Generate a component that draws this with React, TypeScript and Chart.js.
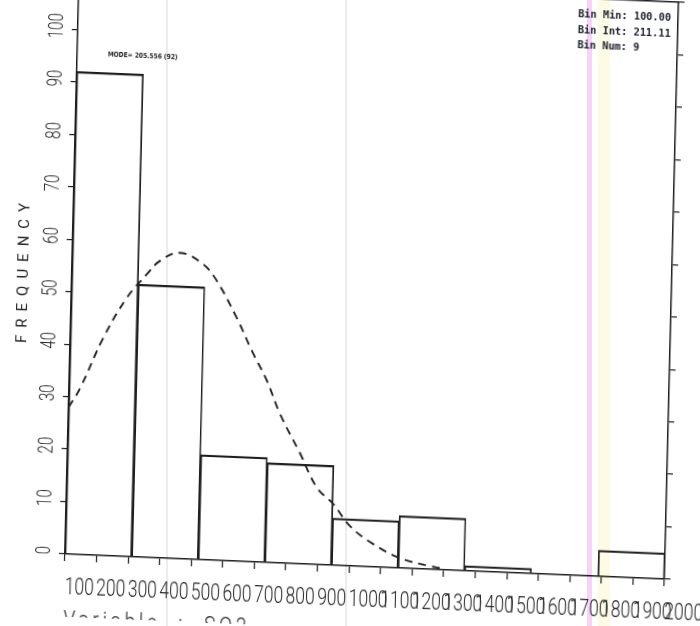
import React, { useEffect, useRef } from 'react';
import { Chart, registerables } from 'chart.js';

Chart.register(...registerables);

// ---- data ----
const binEdges = [100, 311.11, 522.22, 733.33, 944.44, 1155.56, 1366.67, 1577.78, 1788.89, 2000];
const binCounts = [92, 52, 20, 19, 9, 10, 1, 0, 5];
const curveX = [100, 135, 204, 276, 341, 378, 441, 515, 560, 626, 676, 726, 770, 836, 893, 945, 1000, 1074, 1161, 1256, 1290];
const curveY = [28, 31.7, 41.4, 49.3, 54.2, 56.6, 58.3, 56.3, 53.2, 46.3, 40.2, 34.6, 28.4, 21.1, 14.6, 11.7, 7.6, 4.4, 1.9, 0.6, 0.3];
const xTickValues = [100, 200, 300, 400, 500, 600, 700, 800, 900, 1000, 1100, 1200, 1300, 1400, 1500, 1600, 1700, 1800, 1900, 2000];
const xTickLabels = ['100', '200', '300', '400', '500', '600', '700', '800', '900', '1000', '1100', '1200', '1300', '1400', '1500', '1600', '1700', '1800', '1900', '2000'];
const yTickValues = [0, 10, 20, 30, 40, 50, 60, 70, 80, 90, 100, 110];
const yTickLabels = ['0', '10', '20', '30', '40', '50', '60', '70', '80', '90', '100', '110'];
const statLines = ['Bin Min: 100.00', 'Bin Int: 211.11', 'Bin Num: 9'];
const modeLabel = 'MODE= 205.556 (92)';
const yTitle = 'FREQUENCY';
const xTitle = 'Variable : SO3';

const INK = '#1e1e1e';
const LABEL_FONT = 'Roboto, "Liberation Sans", Arial, sans-serif';

const textPlugin = {
  id: 'scanText',
  afterDraw(chart: any) {
    const { ctx, chartArea: a, scales } = chart;
    const xs = scales.x;
    const ys = scales.y;
    ctx.save();
    ctx.fillStyle = '#262626';

    // x tick labels (left aligned at the tick, condensed)
    ctx.font = `300 24px ${LABEL_FONT}`;
    ctx.textAlign = 'left';
    ctx.textBaseline = 'alphabetic';
    xTickValues.forEach((v, i) => {
      const px = xs.getPixelForValue(v);
      ctx.save();
      ctx.translate(px + 0.5, a.bottom + 40);
      ctx.scale(0.73, 1);
      ctx.fillText(xTickLabels[i], 0, 0);
      ctx.restore();
    });

    // y tick labels (rotated)
    ctx.font = `300 21px ${LABEL_FONT}`;
    ctx.textAlign = 'center';
    yTickValues.forEach((v, i) => {
      const py = ys.getPixelForValue(v) - 3;
      ctx.save();
      ctx.translate(a.left - 15, py);
      ctx.rotate(-Math.PI / 2);
      ctx.scale(0.72, 1);
      ctx.fillText(yTickLabels[i], 0, 0);
      ctx.restore();
    });

    // y title
    ctx.save();
    ctx.font = `15px ${LABEL_FONT}`;
    (ctx as any).letterSpacing = '7px';
    ctx.textAlign = 'center';
    ctx.translate(a.left - 44, ys.getPixelForValue(53.2));
    ctx.rotate(-Math.PI / 2);
    ctx.fillText(yTitle, 3.5, 0);
    ctx.restore();

    // x title
    ctx.save();
    ctx.font = `300 24px ${LABEL_FONT}`;
    (ctx as any).letterSpacing = '4.6px';
    (ctx as any).wordSpacing = '12px';
    ctx.textAlign = 'left';
    ctx.translate(a.left, a.bottom + 73);
    ctx.scale(0.8, 1);
    ctx.fillText(xTitle, 0, 0);
    ctx.restore();

    // mode label
    ctx.save();
    ctx.fillStyle = INK;
    ctx.font = 'bold 7px "DejaVu Sans", sans-serif';
    ctx.textAlign = 'left';
    ctx.textBaseline = 'middle';
    ctx.translate(xs.getPixelForValue(197), ys.getPixelForValue(95.4));
    ctx.scale(0.85, 1);
    ctx.fillText(modeLabel, 0, 0);
    ctx.restore();

    // bin stats
    ctx.save();
    ctx.fillStyle = '#1b1e2c';
    ctx.font = 'bold 10.3px "DejaVu Sans Mono", monospace';
    ctx.textAlign = 'left';
    ctx.textBaseline = 'middle';
    const sx = xs.getPixelForValue(1683);
    const sy = ys.getPixelForValue(106.8);
    statLines.forEach((t, i) => {
      ctx.fillText(t, sx, sy + i * 15.5);
    });
    ctx.restore();

    ctx.restore();
  },
};

export default function App() {
  const ref = useRef<HTMLCanvasElement | null>(null);

  useEffect(() => {
    if (!ref.current) return;
    const barData = binCounts.map((c, i) => ({ x: (binEdges[i] + binEdges[i + 1]) / 2, y: c }));
    const curveData = curveX.map((x, i) => ({ x, y: curveY[i] }));

    const chart = new Chart(ref.current, {
      type: 'bar',
      data: {
        datasets: [
          {
            type: 'line',
            data: curveData,
            xAxisID: 'x',
            yAxisID: 'y',
            borderColor: '#222',
            borderWidth: 1.9,
            borderDash: [8, 6],
            pointRadius: 0,
            fill: false,
            tension: 0.4,
            order: 0,
          } as any,
          {
            type: 'bar',
            data: barData,
            xAxisID: 'x',
            yAxisID: 'y',
            backgroundColor: 'rgba(0,0,0,0)',
            borderColor: INK,
            borderWidth: { top: 1.6, left: 1, right: 1, bottom: 0 },
            borderSkipped: false,
            barThickness: 'flex',
            categoryPercentage: 1,
            barPercentage: 1,
            order: 1,
          } as any,
        ],
      },
      options: {
        animation: false,
        responsive: false,
        devicePixelRatio: 1,
        layout: { padding: { left: 20, top: 40, right: 50, bottom: 0 } },
        plugins: { legend: { display: false }, tooltip: { enabled: false } },
        scales: {
          x: {
            type: 'linear',
            position: 'bottom',
            min: 100,
            max: 2000,
            offset: false,
            ticks: { display: false, stepSize: 100 },
            grid: { drawOnChartArea: false, offset: false, tickLength: 7, color: INK, lineWidth: 1.2 },
            border: { display: true, color: INK, width: 1.5 },
            afterFit: (s: any) => { s.height = 63; },
          },
          x2: {
            type: 'linear',
            position: 'top',
            min: 100,
            max: 2000,
            offset: false,
            ticks: { display: false },
            grid: { drawOnChartArea: false, drawTicks: false },
            border: { display: true, color: INK, width: 1.5 },
            afterFit: (s: any) => { s.height = 0; },
          },
          y: {
            type: 'linear',
            position: 'left',
            min: 0,
            max: 110,
            ticks: { display: false, stepSize: 10 },
            grid: { drawOnChartArea: false, tickLength: 6, color: INK, lineWidth: 1.2 },
            border: { display: true, color: INK, width: 1.5 },
            afterFit: (s: any) => { s.width = 60; },
          },
          y2: {
            type: 'linear',
            position: 'right',
            min: 0,
            max: 110,
            ticks: { display: false, stepSize: 10 },
            grid: { drawOnChartArea: false, tickLength: 6, color: INK, lineWidth: 1.2 },
            border: { display: true, color: INK, width: 1.5 },
            afterFit: (s: any) => { s.width = 10; },
          },
        },
      } as any,
      plugins: [textPlugin],
    });
    return () => chart.destroy();
  }, []);

  return (
    <div style={{ position: 'fixed', left: 0, top: 0, width: 700, height: 626, overflow: 'hidden', background: '#fff' }}>
      <div style={{ position: 'absolute', left: 166, top: 0, width: 2, height: 626, background: 'rgba(170,170,170,0.22)' }} />
      <div style={{ position: 'absolute', left: 345, top: 0, width: 2, height: 626, background: 'rgba(170,170,170,0.22)' }} />
      <div style={{ position: 'absolute', left: 587, top: 0, width: 5, height: 626, background: 'rgba(238,160,232,0.45)' }} />
      <div style={{ position: 'absolute', left: 598, top: 0, width: 12, height: 626, background: 'rgba(250,244,190,0.4)' }} />
      <canvas
        ref={ref}
        width={740}
        height={680}
        style={{
          position: 'absolute',
          left: -15,
          top: -63,
          width: 740,
          height: 680,
          transformOrigin: '80px 617px',
          transform: 'matrix(0.99912, 0.04188, -0.02443, 0.9997, 0, 0)',
        }}
      />
    </div>
  );
}
